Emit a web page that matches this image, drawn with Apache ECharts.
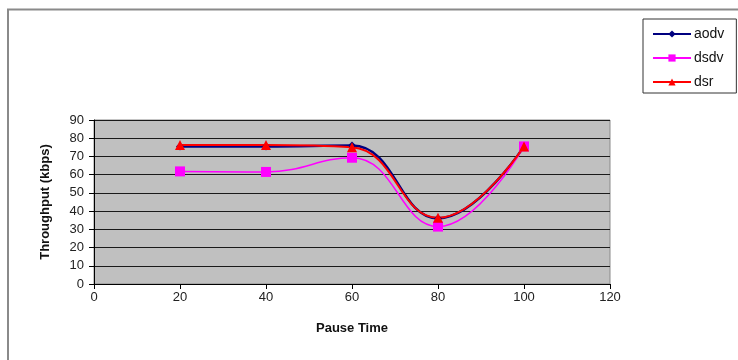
<!DOCTYPE html>
<html>
<head>
<meta charset="utf-8">
<script src="https://cdn.jsdelivr.net/npm/echarts@6/dist/echarts.min.js"></script>
<style>
  html, body { margin: 0; padding: 0; background: #fff; }
  #chart { width: 738px; height: 360px; }
</style>
</head>
<body>
<div id="chart"></div>
<script>
  // pause time (x) and throughput per protocol
  var pauseTimes = [20, 40, 60, 80, 100];
  var aodv = [75.5, 75.5, 76, 36, 75.5];
  var dsdv = [61.8, 61.5, 69.3, 31.5, 75.5];
  var dsr = [76.3, 76.3, 75, 36.3, 75.5];

  function pairs(ys) {
    return pauseTimes.map(function (x, i) { return [x, ys[i]]; });
  }

  var font = 'Liberation Sans, Arial, sans-serif';
  var chart = echarts.init(document.getElementById('chart'));

  var option = {
    animation: false,
    backgroundColor: '#fff',
    graphic: [{
      type: 'rect',
      shape: { x: 8, y: 9.5, width: 760, height: 380 },
      style: { fill: 'none', stroke: '#8a8a8a', lineWidth: 2 },
      silent: true
    }],
    grid: {
      left: 94, right: 128, top: 120, bottom: 76,
      show: true,
      backgroundColor: '#c0c0c0',
      borderColor: '#8a8a8a',
      borderWidth: 1
    },
    legend: {
      left: 643, top: 19,
      orient: 'vertical',
      padding: [8, 12, 4, 9],
      borderColor: '#333',
      borderWidth: 1,
      backgroundColor: '#fff',
      itemWidth: 38,
      itemHeight: 9,
      itemGap: 10,
      textStyle: { fontFamily: font, fontSize: 14, color: '#111', padding: [0, 0, 0, -2] },
      data: ['aodv', 'dsdv', 'dsr']
    },
    xAxis: {
      type: 'value',
      min: 0, max: 120, interval: 20,
      name: 'Pause Time',
      nameLocation: 'middle',
      nameGap: 38,
      nameTextStyle: { fontFamily: font, fontSize: 13, fontWeight: 'bold', color: '#111' },
      axisLine: { lineStyle: { color: '#000', width: 1 } },
      axisTick: { show: true, length: 5, lineStyle: { color: '#000' } },
      axisLabel: { fontFamily: font, fontSize: 13, color: '#222', margin: 7 },
      splitLine: { show: false }
    },
    yAxis: {
      type: 'value',
      min: 0, max: 90, interval: 10,
      name: 'Throughput (kbps)',
      nameLocation: 'middle',
      nameGap: 42,
      nameTextStyle: { fontFamily: font, fontSize: 13, fontWeight: 'bold', color: '#111' },
      axisLine: { show: true, lineStyle: { color: '#000', width: 1 } },
      axisTick: { show: true, length: 5, lineStyle: { color: '#000' } },
      axisLabel: { fontFamily: font, fontSize: 13, color: '#222', margin: 10 },
      splitLine: { show: true, lineStyle: { color: '#1a1a1a', width: 1 } }
    },
    series: [
      {
        name: 'aodv', type: 'line', smooth: 0.45,
        data: pairs(aodv),
        symbol: 'diamond', symbolSize: 8,
        lineStyle: { color: '#000080', width: 2.5 },
        itemStyle: { color: '#000080' }
      },
      {
        name: 'dsdv', type: 'line', smooth: 0.45,
        data: pairs(dsdv),
        symbol: 'rect', symbolSize: 10,
        lineStyle: { color: '#ff00ff', width: 1.5 },
        itemStyle: { color: '#ff00ff' }
      },
      {
        name: 'dsr', type: 'line', smooth: 0.45,
        data: pairs(dsr),
        symbol: 'triangle', symbolSize: 10,
        lineStyle: { color: '#ff0000', width: 2 },
        itemStyle: { color: '#ff0000' }
      }
    ]
  };

  chart.setOption(option);
</script>
</body>
</html>
